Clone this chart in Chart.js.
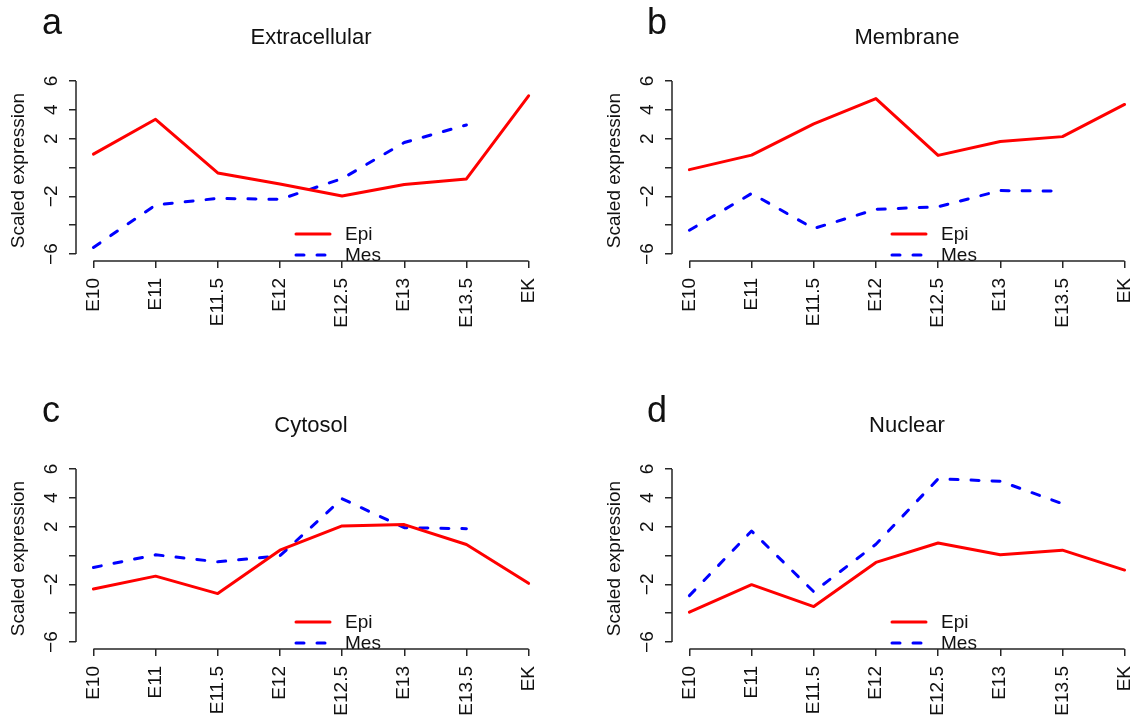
<!DOCTYPE html>
<html lang="en">
<head>
<meta charset="UTF-8" />
<title>Scaled expression by compartment</title>
<script src="https://cdn.jsdelivr.net/npm/chart.js"></script>
<style>
  body { margin: 0; background: #fff; }
  #wrap { position: relative; width: 1137px; height: 721px; overflow: hidden; background: #fff; }
  #wrap canvas { position: absolute; }
</style>
</head>
<body>
<div id="wrap">
  <canvas id="panelA" width="596" height="388" style="left:0;top:0"></canvas>
  <canvas id="panelB" width="596" height="388" style="left:596px;top:0"></canvas>
  <canvas id="panelC" width="596" height="388" style="left:0;top:388px"></canvas>
  <canvas id="panelD" width="596" height="388" style="left:596px;top:388px"></canvas>
</div>
<script>
// stages on the x axis
const stages = ["E10", "E11", "E11.5", "E12", "E12.5", "E13", "E13.5", "EK"];
const yTicks = [-6, -4, -2, 0, 2, 4, 6];
const yTickLabels = ["\u22126", "", "\u22122", "", "2", "4", "6"];
const seriesNames = ["Epi", "Mes"];

const epiExtracellular = [0.93, 3.34, -0.38, -1.15, -1.98, -1.18, -0.79, 4.97];
const mesExtracellular = [-5.54, -2.6, -2.14, -2.21, -0.77, 1.73, 2.95, null];

const epiMembrane = [-0.15, 0.86, 3.02, 4.78, 0.84, 1.8, 2.14, 4.37];
const mesMembrane = [-4.35, -1.8, -4.23, -2.9, -2.72, -1.6, -1.64, null];

const epiCytosol = [-2.32, -1.43, -2.64, 0.37, 2.05, 2.14, 0.76, -1.93];
const mesCytosol = [-0.83, 0.05, -0.44, -0.02, 3.93, 1.93, 1.86, null];

const epiNuclear = [-3.93, -2.02, -3.54, -0.48, 0.87, 0.05, 0.37, -1.01];
const mesNuclear = [-2.78, 1.7, -2.51, 0.78, 5.31, 5.15, 3.59, null];

const FONT = '"Liberation Sans", Arial, Helvetica, sans-serif';
const axisColor = "#262626";
Chart.defaults.font.family = FONT;

const panels = [
  { id: "panelA", letter: "a", title: "Extracellular", epi: epiExtracellular, mes: mesExtracellular, letterX: 42 },
  { id: "panelB", letter: "b", title: "Membrane", epi: epiMembrane, mes: mesMembrane, letterX: 51 },
  { id: "panelC", letter: "c", title: "Cytosol", epi: epiCytosol, mes: mesCytosol, letterX: 42 },
  { id: "panelD", letter: "d", title: "Nuclear", epi: epiNuclear, mes: mesNuclear, letterX: 51 },
];

// base-graphics look: axes only span the tick range, rotated y labels, legend inside the plot
const rStyle = {
  id: "rStyle",
  afterDraw(chart, args, opts) {
    const { ctx, chartArea: area, scales: { x, y } } = chart;
    ctx.save();

    ctx.strokeStyle = axisColor;
    ctx.lineWidth = 1.5;
    ctx.beginPath();
    ctx.moveTo(x.getPixelForValue(1), area.bottom);
    ctx.lineTo(x.getPixelForValue(stages.length), area.bottom);
    ctx.moveTo(area.left, y.getPixelForValue(yTicks[0]));
    ctx.lineTo(area.left, y.getPixelForValue(yTicks[yTicks.length - 1]));
    ctx.stroke();

    ctx.fillStyle = "#111";
    ctx.textAlign = "center";
    ctx.textBaseline = "middle";
    ctx.font = "19px " + FONT;
    yTicks.forEach((v, i) => {
      if (!yTickLabels[i]) return;
      ctx.save();
      ctx.translate(area.left - 24, y.getPixelForValue(v));
      ctx.rotate(-Math.PI / 2);
      ctx.fillText(yTickLabels[i], 0, 0);
      ctx.restore();
    });

    // y axis title
    ctx.save();
    ctx.translate(19, (area.top + area.bottom) / 2 + 3);
    ctx.rotate(-Math.PI / 2);
    ctx.fillText("Scaled expression", 0, 0);
    ctx.restore();

    // main title and panel letter
    ctx.font = "22px " + FONT;
    ctx.fillText(opts.title, (area.left + area.right) / 2, 38);
    ctx.textAlign = "left";
    ctx.textBaseline = "alphabetic";
    ctx.font = "36px " + FONT;
    ctx.fillText(opts.letter, opts.letterX, 34);

    // legend
    ctx.font = "19px " + FONT;
    ctx.textBaseline = "middle";
    chart.data.datasets.forEach((ds, i) => {
      const ly = area.bottom - 27 + i * 21;
      ctx.strokeStyle = ds.borderColor;
      ctx.lineWidth = ds.borderWidth;
      ctx.lineCap = ds.borderCapStyle;
      ctx.setLineDash(ds.borderDash || []);
      ctx.beginPath();
      ctx.moveTo(area.left + 220, ly);
      ctx.lineTo(area.left + 254, ly);
      ctx.stroke();
      ctx.setLineDash([]);
      ctx.fillStyle = "#111";
      ctx.fillText(ds.label, area.left + 269, ly + 1);
    });
    ctx.restore();
  }
};

const toPoints = arr => arr.map((v, i) => ({ x: i + 1, y: v }));

panels.forEach(p => {
  new Chart(document.getElementById(p.id), {
    type: "line",
    data: {
      datasets: [
        {
          label: seriesNames[0],
          data: toPoints(p.epi),
          borderColor: "#ff0000",
          borderWidth: 3,
          borderCapStyle: "round",
          borderJoinStyle: "round",
          pointRadius: 0,
          tension: 0,
        },
        {
          label: seriesNames[1],
          data: toPoints(p.mes),
          borderColor: "#0000ff",
          borderWidth: 3,
          borderDash: [8, 13],
          borderCapStyle: "round",
          borderJoinStyle: "round",
          pointRadius: 0,
          tension: 0,
        },
      ],
    },
    options: {
      responsive: false,
      animation: false,
      events: [],
      layout: { padding: { top: 74, right: 50, bottom: 7, left: 0 } },
      plugins: {
        legend: { display: false },
        tooltip: { enabled: false },
        rStyle: { title: p.title, letter: p.letter, letterX: p.letterX },
      },
      scales: {
        x: {
          type: "linear",
          min: 0.72,
          max: 8.28,
          afterFit: s => { s.height = 120; },
          afterBuildTicks: s => { s.ticks = stages.map((_, i) => ({ value: i + 1 })); },
          ticks: {
            autoSkip: false,
            minRotation: 90,
            maxRotation: 90,
            padding: 10,
            color: "#111",
            font: { size: 19 },
            callback: v => stages[v - 1],
          },
          grid: { drawOnChartArea: false, tickLength: 7, color: axisColor, lineWidth: 1.5 },
          border: { display: false },
        },
        y: {
          min: -6.48,
          max: 6.48,
          afterFit: s => { s.width = 76; },
          afterBuildTicks: s => { s.ticks = yTicks.map(v => ({ value: v })); },
          ticks: { display: false },
          grid: { drawOnChartArea: false, tickLength: 7, color: axisColor, lineWidth: 1.5 },
          border: { display: false },
        },
      },
    },
    plugins: [rStyle],
  });
});
</script>
</body>
</html>
